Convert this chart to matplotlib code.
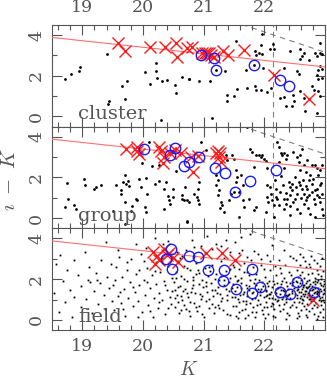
import numpy as np
import matplotlib
matplotlib.use("Agg")
import matplotlib.pyplot as plt
from matplotlib.ticker import MultipleLocator, FixedLocator

plt.rcParams['font.family'] = ['DejaVu Serif']
plt.rcParams['mathtext.fontset'] = 'cm'

# ---- data (K, i-K) ----
# cluster panel
cl_dots = [(18.71,1.85),(18.82,2.08),(18.95,2.21),(18.96,2.42),(19.41,3.06),(19.44,0.75),(19.42,0.63),
           (19.66,1.51),(19.73,1.76),(19.70,0.86),(20.04,2.16),(20.12,1.61),(20.22,2.62),(20.22,2.21),
           (20.23,1.89),(20.31,1.72),(20.39,1.77),(20.30,-0.18),(20.53,1.54),(20.55,1.15),(20.65,1.94),
           (20.75,1.84),(20.76,1.84),(20.93,1.76),(21.10,1.76),(21.35,2.24),(21.54,3.72),(21.69,2.26),
           (21.55,1.35),(21.39,1.03),(21.39,0.75),(21.50,0.99),(21.96,4.05),(21.94,3.51),(22.14,3.56),
           (22.92,3.59),(21.84,3.19),(21.87,3.03),(21.91,3.11),(21.96,3.06),(22.09,3.30),(22.16,3.30),
           (22.43,3.19),(22.59,3.30),(22.62,2.98),(22.65,3.11),(22.58,2.81),(22.73,2.78),(22.84,3.11),
           (22.87,2.98),(22.91,3.11),(22.95,3.06),(21.98,2.37),(22.32,2.37),(22.54,2.21),(22.57,2.10),
           (22.87,2.05),(22.89,2.29),(22.92,2.46),(22.95,2.33),(22.88,1.84),(22.95,1.89),(21.71,1.40),
           (21.84,1.48),(21.87,1.28),(21.95,1.32),(22.04,1.19),(22.11,1.40),(22.26,0.91),(22.32,0.96),
           (22.35,0.50),(22.48,1.07),(22.49,0.75),(22.59,1.24),(22.66,0.91),(22.78,1.48),(22.81,1.32),
           (22.89,1.24),(22.92,0.99),(22.46,0.50),(22.67,0.26),(22.87,0.18),(21.13,-0.07),(21.21,2.29),
           (21.83,2.52)]
cl_red = [(19.59,3.62),(19.71,3.19),(20.12,3.43),(20.36,3.43),(20.54,3.59),(20.56,2.94),(20.72,3.35),
          (20.80,3.43),(20.98,3.11),(21.02,3.14),(21.05,3.11),(21.09,3.11),(21.12,3.03),(21.17,2.91),
          (21.32,3.19),(21.40,3.03),(21.66,3.24),(22.16,2.05),(22.73,0.86)]
cl_blue = [(20.96,3.02),(21.17,2.86),(21.21,2.29),(21.83,2.52),(22.25,1.80),(22.40,1.48)]

# group panel
gr_dots = [(18.75,1.74),(18.71,0.54),(18.77,0.95),(18.86,0.63),(18.89,0.43),(19.02,1.91),(19.04,1.65),
           (19.19,1.45),(19.22,1.53),(19.30,1.61),(19.50,0.33),(19.55,1.61),(19.63,1.37),(19.64,1.20),
           (19.67,1.78),(19.70,2.14),(19.72,1.70),(19.75,1.81),(19.77,1.58),(19.70,0.79),(19.81,0.33),
           (19.82,0.59),(19.88,0.95),(19.90,0.87),(19.94,1.91),(19.97,1.53),(20.04,0.54),(20.05,0.30),
           (20.06,1.20),(20.10,3.75),(19.99,2.73),(20.05,1.97),(20.15,2.57),(20.20,1.70),(20.27,2.60),
           (20.27,1.81),(20.38,1.78),(20.34,1.45),(20.35,0.46),(20.41,1.09),(20.43,0.91),(20.45,0.71),
           (20.49,1.42),(20.50,1.04),(20.55,2.30),(20.64,1.12),(20.65,0.95),(20.68,0.87),(20.70,1.53),
           (20.72,-0.16),(19.70,-0.28),(20.72,0.87),(20.76,0.79),(20.84,1.20),(20.89,1.04),(20.91,0.87),
           (20.93,0.71),(20.90,1.45),(20.95,3.72),(21.04,3.34),(21.20,2.11),(21.23,1.86),(21.20,1.61),
           (21.25,1.37),(21.23,1.12),(21.28,0.79),(21.27,0.49),(21.31,0.63),(21.36,3.10),(21.39,2.85),
           (21.47,3.10),(21.50,2.93),(21.53,2.35),(21.55,2.03),(21.53,1.78),(21.61,2.11),(21.64,1.61),
           (21.58,1.28),(21.58,0.05),(21.64,0.87),(21.66,0.54),(21.72,4.49),(21.75,0.95),(21.77,3.42),
           (21.80,3.26),(21.83,2.52),(21.83,0.38),(21.86,0.54),(21.87,3.10),(21.91,3.10),(21.94,3.01),
           (21.96,3.10),(21.99,2.93),(22.02,2.80),(22.04,2.44),(22.05,1.61),(22.05,1.04),(22.02,0.30),
           (22.06,0.79),(22.10,1.53),(22.11,1.20),(22.13,0.87),(22.16,0.63),(22.16,0.05),(22.18,1.86),
           (22.20,1.45),(22.21,3.75),(22.24,3.51),(22.27,3.18),(22.24,2.77),(22.29,3.10),(22.32,3.18),
           (22.35,2.93),(22.37,3.10),(22.32,2.44),(22.40,1.78),(22.43,1.53),(22.43,1.12),(22.46,1.37),
           (22.48,0.79),(22.51,0.95),(22.54,1.20),(22.54,0.46),(22.57,1.78),(22.59,1.61),(22.62,1.45),
           (22.65,1.20),(22.65,0.71),(22.68,0.87),(22.70,1.04),(22.71,1.45),(22.73,1.86),(22.76,2.11),
           (22.78,1.70),(22.78,1.28),(22.81,0.95),(22.84,0.71),(22.87,1.45),(22.87,1.12),(22.89,2.11),
           (22.92,1.61),(22.92,0.79),(22.95,0.46),(22.95,1.20),(22.48,3.26),(22.54,3.01),(22.57,2.77),
           (22.59,3.10),(22.62,3.42),(22.65,2.60),(22.70,2.85),(22.78,2.60),(22.84,2.60),(22.87,2.44),
           (22.92,2.35),(22.95,2.60),(22.59,2.35),(22.68,2.27),(22.97,0.13),(22.84,0.05),(20.73,-0.20),
           (22.76,0.21),(22.32,0.46),(22.35,0.71),(22.43,0.13),(22.24,0.63),(22.21,0.95),(22.32,0.95),
           (21.34,0.30),(21.45,1.20),(21.42,0.87),(20.93,1.78),(21.50,1.28),(22.20,1.05),(22.26,1.30),
           (22.30,1.62),(22.38,0.92),(22.45,1.70),(22.52,1.52),(22.60,0.98),(22.63,1.88),(22.69,1.58),
           (22.74,1.12),(22.80,1.92),(22.83,1.38),(22.90,1.02),(22.94,1.75),(22.28,2.05),(22.50,2.02),
           (22.42,0.60),(22.72,0.50),(22.58,0.25),(22.36,1.25)]
gr_red = [(19.72,3.39),(19.90,3.49),(19.90,3.28),(19.93,3.16),(20.27,3.49),(20.30,3.28),(20.33,2.73),
          (20.35,3.00),(20.45,3.19),(20.52,3.33),(20.63,3.19),(20.79,3.00),(20.82,2.29),(20.90,3.06),
          (21.20,3.19),(21.23,3.28),(21.25,3.00),(21.28,2.78),(21.27,3.19)]
gr_blue = [(20.02,3.39),(20.44,3.11),(20.53,3.44),(20.68,2.54),(20.75,2.78),(20.92,3.00),(21.19,2.45),
           (21.35,2.24),(21.52,1.30),(21.77,1.84),(22.19,2.37)]

# field panel
fd_dots = [
    # K 18.5 - 19.5
    (18.53,1.32),(18.57,2.74),(18.61,0.41),(18.64,3.18),(18.68,1.91),(18.72,0.87),(18.74,2.43),(18.79,1.49),
    (18.83,0.12),(18.86,2.96),(18.87,1.12),(18.93,2.21),(18.97,0.63),(18.98,1.68),(19.04,3.36),(19.06,1.02),
    (19.09,1.97),(19.11,2.58),(19.16,0.33),(19.19,1.44),(19.22,2.31),(19.26,0.78),(19.29,1.83),(19.31,2.92),
    (19.35,1.21),(19.37,0.52),(19.41,2.12),(19.44,1.57),(19.47,2.77),(19.49,0.94),(19.13,1.88),(19.24,1.96),
    # K 19.5 - 20.5
    (19.51,1.73),(19.53,0.47),(19.56,2.61),(19.59,1.18),(19.61,3.07),(19.64,0.84),(19.66,2.13),(19.69,1.52),
    (19.71,0.21),(19.74,2.44),(19.76,1.07),(19.79,1.86),(19.81,2.98),(19.83,0.66),(19.86,1.39),(19.88,2.27),
    (19.92,0.93),(19.94,1.71),(19.96,3.26),(19.98,0.38),(20.02,1.97),(20.04,1.24),(20.06,2.53),(20.09,0.71),
    (20.12,1.58),(20.14,2.19),(20.16,0.14),(20.18,1.06),(20.21,2.83),(20.22,1.77),(20.24,0.57),(20.26,1.33),
    (20.28,2.37),(20.32,0.98),(20.34,1.92),(20.36,0.29),(20.39,1.49),(20.42,2.66),(20.44,1.13),(20.46,0.76),
    (20.48,2.08),(19.54,1.94),(19.67,0.53),(19.73,2.83),(19.84,1.61),(19.91,0.12),(20.01,2.87),(20.07,1.88),
    (20.19,2.41),(20.27,0.88),(20.37,1.72),(20.47,1.41),(19.62,1.36),(19.94,2.46),(20.11,0.43),(20.31,3.02),
    (20.41,0.59),(19.58,3.45),(20.05,3.55),(20.33,3.72),
    # K 20.5 - 21.5
    (20.51,1.84),(20.53,0.62),(20.54,2.37),(20.56,1.21),(20.58,2.91),(20.59,0.33),(20.61,1.66),(20.63,2.18),
    (20.64,0.97),(20.66,1.43),(20.68,2.66),(20.71,0.51),(20.72,1.92),(20.74,1.12),(20.77,2.44),(20.78,0.18),
    (20.81,1.57),(20.83,2.09),(20.84,0.83),(20.86,1.31),(20.88,2.78),(20.89,0.44),(20.92,1.76),(20.93,2.31),
    (20.96,1.04),(20.97,0.27),(20.99,1.62),(21.02,2.53),(21.03,0.91),(21.06,1.38),(21.07,2.14),(21.09,0.58),
    (21.12,1.83),(21.14,2.68),(21.16,1.17),(21.17,0.36),(21.19,1.49),(21.21,2.26),(21.24,0.74),(21.26,1.96),
    (21.27,1.28),(21.29,2.87),(21.32,0.47),(21.34,1.71),(21.36,2.39),(21.38,0.96),(21.41,1.44),(21.43,2.04),
    (21.44,0.23),(21.47,1.59),(21.49,2.71),
    (20.52,1.47),(20.55,2.06),(20.57,0.88),(20.62,1.18),(20.65,3.13),(20.67,0.71),(20.69,1.54),(20.73,2.57),
    (20.76,0.42),(20.79,1.37),(20.82,1.97),(20.87,0.62),(20.91,2.47),(20.94,1.27),(20.98,1.94),(21.01,0.14),
    (21.04,1.68),(21.08,1.02),(21.11,2.38),(21.13,0.79),(21.18,2.02),(21.22,1.33),(21.25,0.56),(21.28,2.17),
    (21.31,1.06),(21.33,3.02),(21.37,1.53),(21.39,0.31),(21.42,1.87),(21.46,1.13),(21.48,0.68),
    (20.53,1.08),(20.58,1.62),(20.63,0.48),(20.68,2.02),(20.73,1.34),(20.78,0.86),(20.83,1.73),(20.88,2.23),
    (20.93,0.69),(20.98,1.16),(21.03,1.88),(21.08,2.61),(21.13,1.46),(21.18,0.61),(21.23,1.64),(21.28,0.93),
    (21.33,1.98),(21.38,1.22),(21.43,2.52),(21.48,1.77),
    (20.56,3.34),(20.71,3.41),(20.84,3.56),(21.02,3.27),(21.14,3.48),(21.29,3.63),(21.44,3.36),(20.61,3.03),
    (20.96,3.62),(21.21,3.74),(20.81,3.94),(21.06,4.11),(21.36,3.91),(21.61,4.06),(21.76,4.21),(21.51,3.81),
    (20.41,3.87),(20.19,4.02),(19.89,3.73),(19.39,3.82),
    # K 21.5 - 22.5
    (21.51,1.42),(21.52,2.17),(21.54,0.67),(21.55,1.89),(21.57,1.03),(21.58,2.49),(21.59,0.38),(21.61,1.58),
    (21.62,2.08),(21.64,0.91),(21.65,1.27),(21.66,2.81),(21.68,0.54),(21.69,1.72),(21.71,1.16),(21.72,2.33),
    (21.73,0.24),(21.75,1.47),(21.76,1.98),(21.77,0.83),(21.79,1.32),(21.81,2.62),(21.82,0.61),(21.83,1.79),
    (21.85,1.09),(21.86,2.24),(21.87,0.41),(21.89,1.53),(21.91,1.96),(21.92,0.76),(21.93,1.24),(21.95,2.71),
    (21.96,0.49),(21.97,1.67),(21.99,1.14),(22.01,2.13),(22.02,0.87),(22.03,1.43),(22.05,1.82),(22.06,0.31),
    (22.07,1.28),(22.09,2.43),(22.11,0.68),(22.12,1.61),(22.13,1.07),(22.15,1.91),(22.16,0.52),(22.18,1.36),
    (22.19,2.21),(22.21,0.93),(22.22,1.57),(22.23,1.13),(22.25,2.57),(22.26,0.44),(22.28,1.74),(22.29,1.02),
    (22.31,1.46),(22.32,2.06),(22.33,0.77),(22.35,1.23),(22.36,1.87),(22.37,0.36),(22.39,1.52),(22.41,2.36),
    (22.42,1.06),(22.43,0.63),(22.45,1.69),(22.46,1.31),(22.47,2.02),(22.49,0.89),
    (21.50,2.58),(21.53,0.19),(21.56,1.96),(21.58,3.28),(21.60,1.21),(21.63,0.47),(21.67,2.37),(21.70,0.93),
    (21.74,1.66),(21.78,2.93),(21.80,0.37),(21.84,2.01),(21.88,0.73),(21.90,3.22),(21.94,1.54),(21.98,0.29),
    (22.00,2.52),(22.04,0.61),(22.08,1.92),(22.10,2.87),(22.14,0.18),(22.17,2.63),(22.20,1.33),(22.24,0.71),
    (22.27,2.29),(22.30,0.53),(22.34,2.71),(22.38,1.18),(22.40,0.24),(22.44,2.21),(22.48,3.04),
    (21.52,1.13),(21.55,1.64),(21.59,0.86),(21.62,1.81),(21.66,1.39),(21.69,0.79),(21.72,1.58),(21.75,2.21),
    (21.79,1.02),(21.82,1.36),(21.86,1.71),(21.89,0.96),(21.92,1.44),(21.96,1.86),(21.99,0.62),(22.03,1.17),
    (22.06,1.66),(22.09,1.26),(22.13,0.83),(22.16,1.78),(22.19,1.52),(22.23,0.98),(22.26,1.29),(22.29,1.93),
    (22.33,1.41),(22.36,0.86),(22.39,1.24),(22.43,1.81),(22.46,0.72),(22.49,1.56),
    (21.54,2.88),(21.63,3.44),(21.71,3.11),(21.83,3.38),(21.94,2.97),(22.04,3.21),(22.12,3.69),(22.24,2.96),
    (22.32,3.43),(22.42,3.13),(21.57,0.11),(21.68,0.07),(21.84,0.14),(22.01,0.09),(22.18,0.12),(22.36,0.06),
    (22.02,1.49),(22.07,1.09),(22.11,1.37),(22.17,1.04),(22.21,1.83),(22.27,1.49),(22.31,1.11),(22.37,1.68),
    (22.41,1.29),(22.47,1.86),(22.05,1.22),(22.15,0.79),(22.25,1.64),(22.35,1.04),(22.45,1.43),
    # K 22.5 - 23.0
    (22.51,1.27),(22.52,0.63),(22.52,1.91),(22.53,2.46),(22.54,1.07),(22.55,1.66),(22.55,0.34),(22.56,2.13),
    (22.57,1.38),(22.57,0.88),(22.58,1.79),(22.59,2.71),(22.60,1.18),(22.60,0.47),(22.61,1.98),(22.62,1.53),
    (22.62,2.36),(22.63,0.97),(22.64,1.29),(22.64,3.08),(22.65,1.69),(22.66,0.68),(22.66,2.04),(22.67,1.42),
    (22.68,0.22),(22.68,1.83),(22.69,2.58),(22.70,1.13),(22.70,1.57),(22.71,0.77),(22.72,2.23),(22.72,1.33),
    (22.73,1.94),(22.74,0.43),(22.74,1.03),(22.75,2.62),(22.76,1.48),(22.76,1.74),(22.77,0.92),(22.78,2.31),
    (22.78,1.22),(22.79,0.57),(22.80,1.88),(22.80,1.52),(22.81,2.96),(22.82,1.08),(22.82,0.27),(22.83,2.07),
    (22.84,1.37),(22.84,1.76),(22.85,0.82),(22.86,2.47),(22.86,1.27),(22.87,0.62),(22.88,1.97),(22.88,1.58),
    (22.89,2.27),(22.90,0.97),(22.90,1.17),(22.91,0.37),(22.92,1.82),(22.92,2.67),(22.93,1.42),(22.94,0.72),
    (22.94,2.02),(22.95,1.12),(22.96,1.67),(22.96,2.42),(22.97,0.52),(22.98,1.32),(22.98,1.92),(22.99,0.87),
    (22.515,2.93),(22.535,1.48),(22.565,0.18),(22.585,2.21),(22.615,1.03),(22.635,1.73),(22.665,1.26),
    (22.685,0.54),(22.715,1.62),(22.735,2.77),(22.765,1.07),(22.785,1.46),(22.815,0.71),(22.835,1.93),
    (22.865,1.34),(22.885,0.19),(22.915,1.53),(22.935,2.17),(22.965,0.98),(22.985,1.77),
    (22.53,1.21),(22.56,1.54),(22.59,1.06),(22.61,1.37),(22.63,1.61),(22.66,1.15),(22.69,1.44),(22.71,1.91),
    (22.73,1.24),(22.76,1.02),(22.79,1.68),(22.81,1.31),(22.83,1.57),(22.86,1.84),(22.89,1.36),(22.91,1.08),
    (22.93,1.71),(22.96,1.27),(22.98,1.53),(22.54,1.87),(22.62,0.83),(22.68,1.62),(22.74,1.66),(22.81,1.11),
    (22.87,1.41),(22.93,0.94),(22.99,1.46),
    (22.58,3.23),(22.67,2.88),(22.77,3.14),(22.87,2.81),(22.95,3.03),(22.53,0.08),(22.71,0.13),(22.86,0.06),
    (22.97,0.16)]
fd_red = [(20.17,3.33),(20.23,3.13),(20.20,2.77),(20.26,2.93),(20.35,3.47),(20.39,3.17),(20.43,3.27),
          (20.50,3.05),(20.57,2.83),(21.04,3.30),(21.31,3.30),(21.51,2.93),(22.80,1.00)]
fd_blue = [(20.46,3.47),(20.38,3.00),(20.48,2.50),(20.76,3.13),(20.91,3.10),(21.07,2.47),(21.34,2.43),
           (21.32,1.93),(21.54,1.50),(21.80,1.30),(21.93,1.63),(21.80,2.50),(22.25,1.35),(22.42,1.25),
           (22.53,1.85),(22.82,1.35)]

labels = ['cluster', 'group', 'field']
k_ticks = [19, 20, 21, 22]
# red relation line and completeness limits
fit_k = [18.5, 23.0]
fit_c = [3.88, 2.43]
k_lim = 22.15
i_lim = 26.15

gray = '#555555'
fig, axes = plt.subplots(3, 1, figsize=(3.27, 3.82), dpi=100, sharex=True)
fig.subplots_adjust(left=0.159, right=0.994, bottom=0.136, top=0.935, hspace=0)

panels = [(cl_dots, cl_red, cl_blue), (gr_dots, gr_red, gr_blue), (fd_dots, fd_red, fd_blue)]
for i, ax in enumerate(axes):
    dots, red, blue = panels[i]
    dk, dc = zip(*dots)
    if i < 2:
        ax.plot(dk, dc, 'o', color='k', ms=2.0, mew=0, zorder=2)
    else:
        ax.plot(dk, dc, 's', color='k', ms=1.3, mew=0, zorder=2)
    kk = np.array([18.5, 23.0])
    ax.plot(fit_k, fit_c, color='#ff7070', lw=0.8, zorder=3)
    ax.plot(kk, i_lim - kk, color='#808080', lw=0.8, dashes=(5, 4), zorder=1)
    ax.axvline(k_lim, color='#808080', lw=0.8, dashes=(5, 4), zorder=1)
    rk, rc = zip(*red)
    ax.plot(rk, rc, 'x', color='#ff1a1a', ms=8, mew=1.0, zorder=4)
    bk, bc = zip(*blue)
    ax.plot(bk, bc, 'o', mfc='none', mec='#1a1aff', ms=7.5, mew=1.0, zorder=5)

    ax.set_xlim(18.5, 23.0)
    ax.set_ylim(-0.5, 4.5)
    ax.xaxis.set_major_locator(FixedLocator(k_ticks))
    ax.xaxis.set_minor_locator(MultipleLocator(0.2))
    ax.yaxis.set_major_locator(MultipleLocator(2))
    ax.yaxis.set_minor_locator(MultipleLocator(1))
    ax.tick_params(which='both', direction='in', top=True, right=True, colors=gray,
                   labelsize=12.5, labelcolor=gray, width=0.8)
    ax.tick_params(which='major', length=7)
    ax.tick_params(which='minor', length=3.5)
    ax.tick_params(axis='x', labelbottom=(i == 2), labeltop=(i == 0), pad=6)
    ax.tick_params(axis='y', pad=5)
    for lab in ax.get_yticklabels():
        lab.set_rotation(90)
        lab.set_va('center')
    for s in ax.spines.values():
        s.set_color(gray)
        s.set_linewidth(0.8)
    ax.text(18.93, -0.12, labels[i], fontsize=14, color=gray, zorder=6)

axes[2].set_xlabel('$K$', fontsize=14, color=gray, labelpad=4)
fig.text(0.028, 0.53, r'$\imath\ -\ K$', rotation=90, fontsize=15, color=gray,
         ha='center', va='center')

plt.savefig('out.png', dpi=100)
